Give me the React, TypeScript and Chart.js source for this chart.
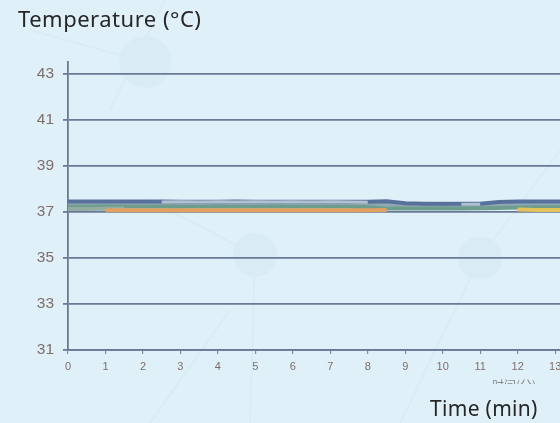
import React, { useEffect, useRef } from "react";
import { Chart, registerables } from "chart.js";
Chart.register(...registerables);

// Time axis (minutes)
const times = [0, 0.5, 1, 1.5, 2, 2.5, 3, 3.5, 4, 4.5, 5, 5.5, 6, 6.5, 7, 7.5, 8, 8.5, 9, 9.5, 10, 10.5, 11, 11.5, 12, 12.5, 13, 13.5];

// Temperature series (°C)
const seriesBlue = [37.44, 37.44, 37.45, 37.44, 37.44, 37.44, 37.43, 37.43, 37.43, 37.44, 37.43, 37.43, 37.43, 37.43, 37.43, 37.43, 37.43, 37.46, 37.37, 37.35, 37.35, 37.35, 37.35, 37.42, 37.44, 37.44, 37.44, 37.44];
const seriesGrey = [null, null, null, null, null, 37.42, 37.43, 37.42, 37.43, 37.42, 37.43, 37.42, 37.43, 37.42, 37.43, 37.42, 37.41, null, null, null, null, 37.33, 37.33, null, null, null, null, null];
const seriesTeal = [37.32, 37.32, 37.32, 37.32, 37.32, 37.32, 37.32, 37.32, 37.32, 37.32, 37.32, 37.32, 37.32, 37.32, 37.32, 37.32, 37.32, 37.3, 37.28, 37.28, 37.28, 37.28, 37.28, 37.28, 37.3, 37.3, 37.3, 37.3];
const seriesGreen = [37.22, 37.22, 37.23, 37.22, 37.22, 37.23, 37.22, 37.22, 37.23, 37.22, 37.22, 37.23, 37.22, 37.22, 37.22, 37.22, 37.2, 37.14, 37.14, 37.14, 37.15, 37.14, 37.15, 37.16, 37.18, 37.2, 37.2, 37.2];
const seriesSage = [37.12, 37.12, 37.13, 37.14, null, null, null, null, null, null, null, null, null, null, null, null, null, null, null, null, null, null, null, null, null, null, null, null];
const seriesOrange = [null, null, 37.07, 37.07, 37.07, 37.07, 37.07, 37.07, 37.07, 37.07, 37.07, 37.07, 37.07, 37.07, 37.07, 37.07, 37.07, 37.08, null, null, null, null, null, null, null, null, null, null];
const seriesYellow = [null, null, null, null, null, null, null, null, null, null, null, null, null, null, null, null, null, null, null, null, null, null, null, null, 37.1, 37.08, 37.08, 37.08];

const yTicks = [31, 33, 35, 37, 39, 41, 43];
const xTicks = [0, 1, 2, 3, 4, 5, 6, 7, 8, 9, 10, 11, 12, 13];

const yTitle = "Temperature (°C)";
const xTitle = "Time (min)";
const xTitleCn = "时间(分)";

function pts(vals: (number | null)[]) {
  return times.map((t, i) => ({ x: t, y: vals[i] }));
}

export default function App() {
  const ref = useRef<HTMLCanvasElement | null>(null);

  useEffect(() => {
    document.body.style.margin = "0";
    const ctx = ref.current!.getContext("2d")!;
    const line = (vals: (number | null)[], color: string, w = 4) => ({
      data: pts(vals),
      borderColor: color,
      backgroundColor: color,
      borderWidth: w,
      pointRadius: 0,
      tension: 0,
      spanGaps: false,
    });
    const chart = new Chart(ctx, {
      type: "line",
      data: {
        datasets: [
          line(seriesGrey, "rgba(186,202,214,0.9)", 3),
          line(seriesBlue, "#58719c"),
          line(seriesYellow, "#e4c25a"),
          line(seriesOrange, "#e2a062"),
          line(seriesSage, "#92aca2"),
          line(seriesGreen, "#6f9d8d"),
          line(seriesTeal, "#8fa8b2"),
        ] as any,
      },
      options: {
        responsive: false,
        animation: false,
        events: [],
        layout: { padding: { top: 62, left: 0, right: 0, bottom: 0 } },
        plugins: { legend: { display: false }, tooltip: { enabled: false } },
        scales: {
          x: {
            type: "linear",
            min: 0,
            max: 13.13,
            afterBuildTicks: (s: any) => {
              s.ticks = xTicks.map((v) => ({ value: v }));
            },
            afterFit: (s: any) => {
              s.height = 73;
              s.paddingLeft = 0;
              s.paddingRight = 0;
            },
            grid: {
              drawOnChartArea: false,
              drawTicks: true,
              tickLength: 4,
              color: "#7d8ca6",
              lineWidth: 1.2,
            },
            border: { display: true, color: "#6a7a96", width: 1.8 },
            ticks: {
              color: "#7e6e68",
              font: { family: "Liberation Sans", size: 11 },
              padding: 6,
              maxRotation: 0,
              autoSkip: false,
            },
          },
          y: {
            type: "linear",
            min: 31,
            max: 43.5,
            afterBuildTicks: (s: any) => {
              s.ticks = yTicks.map((v) => ({ value: v }));
            },
            afterFit: (s: any) => {
              s.width = 68;
              s.paddingTop = 0;
              s.paddingBottom = 0;
            },
            grid: {
              drawOnChartArea: true,
              drawTicks: true,
              tickLength: 5,
              color: "#6a7a96",
              lineWidth: 1.8,
            },
            border: { display: true, color: "#6a7a96", width: 1.8 },
            ticks: {
              color: "#7e6e68",
              font: { family: "Liberation Sans", size: 15.5 },
              padding: 9,
            },
          },
        },
      },
    });
    return () => chart.destroy();
  }, []);

  return (
    <div
      style={{
        position: "fixed",
        left: 0,
        top: 0,
        width: 560,
        height: 423,
        background: "#e0f0f9",
        overflow: "hidden",
      }}
    >
      <svg
        width={560}
        height={423}
        style={{ position: "absolute", left: 0, top: 0 }}
      >
        <g stroke="#d9ecf6" strokeWidth={2} fill="none">
          <line x1={170} y1={-10} x2={110} y2={110} />
          <line x1={145} y1={62} x2={30} y2={30} />
          <line x1={255} y1={255} x2={150} y2={200} />
          <line x1={255} y1={255} x2={250} y2={423} />
          <line x1={480} y1={258} x2={560} y2={150} />
          <line x1={480} y1={258} x2={400} y2={423} />
          <line x1={150} y1={423} x2={230} y2={310} />
        </g>
        <g fill="#d9ecf6">
          <circle cx={145} cy={62} r={26} />
          <circle cx={255} cy={255} r={22} />
          <circle cx={480} cy={258} r={22} />
        </g>
      </svg>
      <canvas
        ref={ref}
        width={560}
        height={423}
        style={{ position: "absolute", left: 0, top: 0 }}
      />
      <div
        style={{
          position: "absolute",
          left: 18,
          top: 3,
          fontFamily: "Noto Sans",
          fontSize: 22,
          letterSpacing: 0.5,
          color: "#262626",
          whiteSpace: "nowrap",
        }}
      >
        {yTitle}
      </div>
      <div
        style={{
          position: "absolute",
          left: 492,
          top: 378,
          height: 6,
          overflow: "hidden",
          fontFamily: "Noto Sans CJK SC",
          fontSize: 12,
          lineHeight: "14px",
          color: "#8a8a8a",
          whiteSpace: "nowrap",
        }}
      >
        {xTitleCn}
      </div>
      <div
        style={{
          position: "absolute",
          left: 430,
          top: 394,
          fontFamily: "Noto Sans",
          fontSize: 21,
          letterSpacing: 0.3,
          color: "#262626",
          whiteSpace: "nowrap",
        }}
      >
        {xTitle}
      </div>
    </div>
  );
}
